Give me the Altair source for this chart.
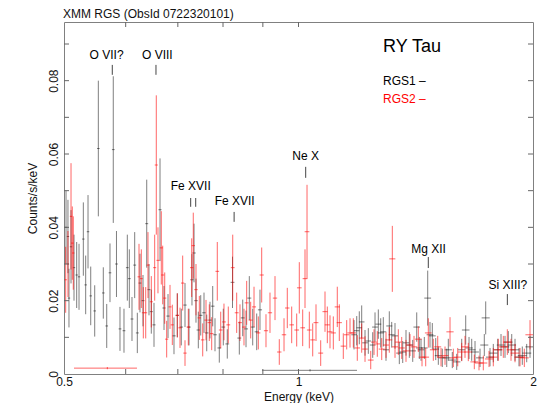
import altair as alt
import pandas as pd

FONT = "Liberation Sans"
W, H = 469, 352

# ---------------- RGS1 (black) ----------------
rgs1_e = [0.5030, 0.5059, 0.5074, 0.5105, 0.5150, 0.5191, 0.5227, 0.5294, 0.5331, 0.5368,
          0.5411, 0.5475, 0.5534, 0.5616, 0.5673, 0.5728, 0.5784, 0.5839, 0.5900, 0.5970,
          0.6029, 0.6065, 0.6113, 0.6162, 0.6210, 0.6259, 0.6315, 0.6385, 0.6428, 0.6472,
          0.6524, 0.6641, 0.6720, 0.6800, 0.6921, 0.6989, 0.7072, 0.7150, 0.7235, 0.7299,
          0.7343, 0.7386, 0.7437, 0.7490, 0.7563, 0.7624, 0.7698, 0.7760, 0.7813, 0.7913,
          0.8007, 0.8102, 0.8228, 0.8395, 0.8480, 0.8563, 0.8647, 0.8734, 0.8838, 0.8924,
          1.1783, 1.1878, 1.1969, 1.2054, 1.2173, 1.2292, 1.2453, 1.2538, 1.2661, 1.2751,
          1.2849, 1.2952, 1.3079, 1.3172, 1.3301, 1.3472, 1.3608, 1.3741, 1.3876, 1.4016,
          1.4183, 1.4292, 1.4364, 1.4505, 1.4651, 1.4751, 1.4852, 1.5002, 1.5118, 1.5297,
          1.5498, 1.5571, 1.5756, 1.5963, 1.6200, 1.6393, 1.6554, 1.6686, 1.6850, 1.7101,
          1.7319, 1.7391, 1.7614, 1.7786, 1.8019, 1.8196, 1.8412, 1.8593, 1.8781, 1.8965,
          1.9190, 1.9378, 1.9632, 1.9825]
rgs1_v = [0.040, 0.0375, 0.0207, 0.0347, 0.029, 0.027, 0.0265, 0.0368, 0.0243, 0.0388,
          0.0213, 0.0172, 0.0615, 0.0221, 0.0131, 0.0276, 0.0612, 0.030, 0.0123, 0.0118,
          0.029, 0.026, 0.015, 0.0297, 0.0112, 0.0248, 0.020, 0.041, 0.023, 0.017,
          0.0134, 0.0448, 0.018, 0.0158, 0.0104, 0.016, 0.0128, 0.0188, 0.0128, 0.0257,
          0.033, 0.020, 0.012, 0.016, 0.0167, 0.0112, 0.0147, 0.0185, 0.0107, 0.0071,
          0.0128, 0.0082, 0.025, 0.0098, 0.0153, 0.0123, 0.0207, 0.0128, 0.0115, 0.0175,
          0.0107, 0.0118, 0.0126, 0.0142, 0.0085, 0.009, 0.0079, 0.0128, 0.0136, 0.0112,
          0.0115, 0.0066, 0.0131, 0.0107, 0.0104, 0.0057, 0.006, 0.0085, 0.0079, 0.0063,
          0.0128, 0.0071, 0.0066, 0.0071, 0.0207, 0.0107, 0.0104, 0.0068, 0.005, 0.0044,
          0.0044, 0.0066, 0.0038, 0.0033, 0.0066, 0.012, 0.0071, 0.0066, 0.006, 0.0044,
          0.0079, 0.0153, 0.0046, 0.0057, 0.0066, 0.0079, 0.0074, 0.0087, 0.0079, 0.0066,
          0.0046, 0.005, 0.0057, 0.0074]
rgs1_err = [0.010, 0.010, 0.008, 0.010, 0.009, 0.009, 0.009, 0.010, 0.008, 0.010,
            0.008, 0.007, 0.0185, 0.007, 0.006, 0.008, 0.020, 0.009, 0.006, 0.006,
            0.009, 0.008, 0.006, 0.009, 0.0055, 0.008, 0.007, 0.012, 0.007, 0.006,
            0.006, 0.014, 0.006, 0.006, 0.005, 0.006, 0.005, 0.006, 0.005, 0.007,
            0.008, 0.006, 0.005, 0.0055, 0.0055, 0.005, 0.005, 0.0055, 0.0045, 0.004,
            0.005, 0.004, 0.007, 0.0045, 0.005, 0.005, 0.006, 0.005, 0.005, 0.0055,
            0.004, 0.004, 0.0045, 0.0045, 0.0035, 0.0035, 0.0035, 0.004, 0.004, 0.004,
            0.004, 0.003, 0.004, 0.0035, 0.0035, 0.003, 0.003, 0.0035, 0.0035, 0.003,
            0.004, 0.003, 0.003, 0.003, 0.0075, 0.0035, 0.0035, 0.003, 0.0025, 0.0025,
            0.0025, 0.003, 0.0022, 0.0022, 0.003, 0.004, 0.003, 0.003, 0.003, 0.0025,
            0.003, 0.0045, 0.0025, 0.0025, 0.003, 0.003, 0.003, 0.003, 0.003, 0.003,
            0.0025, 0.0025, 0.0025, 0.003]

# ---------------- RGS2 (red) ----------------
rgs2_e = [0.5025, 0.5059, 0.5105, 0.5124, 0.5139, 0.6241, 0.6284, 0.6321, 0.6366, 0.6409,
          0.6472, 0.6537, 0.6568, 0.6601, 0.6666, 0.6694, 0.6734, 0.6773, 0.6840, 0.6887,
          0.6989, 0.7045, 0.7101, 0.7150, 0.7220, 0.7293, 0.7327, 0.7386, 0.7459, 0.7534,
          0.7608, 0.7682, 0.7737, 0.7866, 0.7946, 0.8023, 0.8126, 0.8233, 0.8330, 0.8412,
          0.8512, 0.8580, 0.8682, 0.8768, 0.8880, 0.8969, 0.9084, 0.9192, 0.9329, 0.9448,
          0.9581, 0.9674, 0.9801, 0.9947, 1.0024, 1.0125, 1.0194, 1.0255, 1.0325, 1.0429,
          1.0531, 1.0678, 1.0815, 1.0889, 1.0976, 1.1084, 1.1215, 1.1282, 1.1416, 1.1531,
          1.1645, 1.1759, 1.1898, 1.2054, 1.2173, 1.2380, 1.2501, 1.2623, 1.2789, 1.2952,
          1.3079, 1.3196, 1.3301, 1.3432, 1.3567, 1.3741, 1.3904, 1.4070, 1.4250, 1.4407,
          1.4565, 1.4677, 1.4896, 1.5091, 1.5239, 1.5420, 1.5650, 1.5803, 1.6010, 1.6200,
          1.6359, 1.6519, 1.6815, 1.7050, 1.7268, 1.7562, 1.7786, 1.8051, 1.8320, 1.8538,
          1.8742, 1.8965, 1.9247, 1.9493, 1.9825]
rgs2_v = [0.0257, 0.030, 0.043, 0.0357, 0.033, 0.0265, 0.026, 0.0167, 0.0167, 0.0297,
          0.0197, 0.029, 0.057, 0.031, 0.0344, 0.027, 0.0207, 0.0095, 0.0183, 0.0134,
          0.016, 0.0126, 0.0248, 0.0057, 0.0128, 0.029, 0.035, 0.023, 0.0153, 0.0093,
          0.0147, 0.014, 0.011, 0.028, 0.012, 0.0142, 0.0134, 0.029, 0.0167, 0.014,
          0.0128, 0.0194, 0.0147, 0.0183, 0.0112, 0.027, 0.0118, 0.0167, 0.0207, 0.006,
          0.0107, 0.018, 0.0134, 0.012, 0.0235, 0.0126, 0.026, 0.0388, 0.012, 0.0093,
          0.014, 0.0057, 0.017, 0.0134, 0.0115, 0.0112, 0.0183, 0.014, 0.0076, 0.0107,
          0.0112, 0.0112, 0.0071, 0.0098, 0.0068, 0.0038, 0.0087, 0.0082, 0.0068, 0.0079,
          0.0093, 0.0314, 0.0074, 0.0087, 0.0071, 0.0063, 0.0079, 0.0074, 0.0095, 0.0046,
          0.0046, 0.0112, 0.0066, 0.0074, 0.0046, 0.005, 0.0115, 0.0044, 0.0046, 0.006,
          0.0074, 0.006, 0.0033, 0.003, 0.003, 0.0041, 0.0046, 0.0066, 0.0074, 0.0087,
          0.0066, 0.0057, 0.0046, 0.0044, 0.0107]
rgs2_err = [0.009, 0.009, 0.0145, 0.010, 0.010, 0.009, 0.008, 0.007, 0.007, 0.009,
            0.007, 0.009, 0.019, 0.009, 0.010, 0.008, 0.007, 0.005, 0.006, 0.0055,
            0.006, 0.0055, 0.0075, 0.0035, 0.005, 0.008, 0.009, 0.007, 0.006, 0.0045,
            0.0055, 0.005, 0.0045, 0.008, 0.005, 0.005, 0.005, 0.009, 0.0055, 0.005,
            0.005, 0.006, 0.005, 0.0055, 0.0045, 0.0075, 0.0045, 0.0055, 0.006, 0.0035,
            0.0045, 0.0055, 0.005, 0.0045, 0.007, 0.005, 0.008, 0.0128, 0.005, 0.0045,
            0.005, 0.0035, 0.0055, 0.005, 0.0045, 0.0045, 0.0055, 0.005, 0.0035, 0.004,
            0.004, 0.004, 0.0035, 0.004, 0.0035, 0.0025, 0.0035, 0.0035, 0.003, 0.0035,
            0.0035, 0.009, 0.003, 0.0035, 0.003, 0.003, 0.003, 0.003, 0.0035, 0.0025,
            0.0025, 0.004, 0.003, 0.003, 0.0025, 0.0025, 0.004, 0.0025, 0.0025, 0.0025,
            0.003, 0.0025, 0.002, 0.002, 0.002, 0.0022, 0.0025, 0.003, 0.003, 0.0035,
            0.003, 0.0025, 0.0025, 0.0025, 0.004]

# wide (chip-gap) bins: instrument, centre, low edge, high edge, value, error
wide_inst = ["RGS1", "RGS2"]
wide_e = [1.0347, 0.5683]
wide_lo = [0.8977, 0.5150]
wide_hi = [1.1888, 0.6204]
wide_v = [0.0010, 0.0016]
wide_err = [0.0003, 0.0003]

# line identifications
line_label = ["O VII?", "O VIII", "Fe XVII", "Fe XVII", "Ne X", "Mg XII", "Si XIII?"]
line_label_e = [0.5670, 0.6588, 0.7273, 0.8280, 1.0215, 1.4686, 1.8573]
line_label_y = [0.0871, 0.0871, 0.0513, 0.0473, 0.0595, 0.0341, 0.0243]
mark_e = [0.5767, 0.6562, 0.7271, 0.7380, 0.8267, 1.0215, 1.4677, 1.8540]
mark_y1 = [0.0843, 0.0843, 0.0480, 0.0480, 0.0442, 0.0565, 0.0319, 0.0218]
mark_y2 = [0.0816, 0.0816, 0.0456, 0.0456, 0.0415, 0.0535, 0.0289, 0.0188]

x_minor = [0.6, 0.7, 0.8, 0.9, 1.0]
y_minor = [0.01, 0.02, 0.03, 0.04, 0.05, 0.06, 0.07, 0.08, 0.09]

HALF_BIN_A = 0.085   # half bin width in Angstrom (constant-wavelength bins)
HC = 12.398

assert len(rgs1_e) == len(rgs1_v) == len(rgs1_err)
assert len(rgs2_e) == len(rgs2_v) == len(rgs2_err)


def build(es, vs, errs):
    rows = []
    for e, v, s in zip(es, vs, errs):
        de = e * e * HALF_BIN_A / HC
        rows.append(dict(e=e, elo=e - de, ehi=e + de, v=v, lo=max(v - s, 0.0), hi=v + s))
    return rows


df1 = pd.DataFrame(build(rgs1_e, rgs1_v, rgs1_err))
df2 = pd.DataFrame(build(rgs2_e, rgs2_v, rgs2_err))
wide = pd.DataFrame(dict(inst=wide_inst, e=wide_e, elo=wide_lo, ehi=wide_hi, v=wide_v,
                         lo=[a - b for a, b in zip(wide_v, wide_err)],
                         hi=[a + b for a, b in zip(wide_v, wide_err)]))
df1 = pd.concat([df1, wide[wide.inst == "RGS1"].drop(columns="inst")], ignore_index=True)
df2 = pd.concat([df2, wide[wide.inst == "RGS2"].drop(columns="inst")], ignore_index=True)

xs = alt.Scale(type="log", domain=[0.5, 2.0], nice=False)
ys = alt.Scale(domain=[0, 0.096], nice=False, zero=False)

xaxis = alt.Axis(values=[0.5, 1, 2], format="~g", labelAngle=0, ticks=False, tickSize=0,
                 domain=False, grid=False, labelFlush=False, labelFont=FONT, labelFontSize=12,
                 labelColor="#111", labelPadding=2, titleFont=FONT, titleFontSize=12,
                 titleFontWeight="normal", titleColor="#111", titlePadding=4)
yaxis = alt.Axis(values=[0, 0.02, 0.04, 0.06, 0.08], format="~g", labelAngle=270,
                 labelAlign="center", labelBaseline="bottom", ticks=False, tickSize=0,
                 domain=False, grid=False, labelFont=FONT, labelFontSize=12,
                 labelColor="#111", labelPadding=4, titleFont=FONT, titleFontSize=12,
                 titleFontWeight="normal", titleColor="#111", titlePadding=8)


def X(f):
    return alt.X(f, type="quantitative", scale=xs, axis=xaxis, title="Energy (keV)")


def Y(f):
    return alt.Y(f, type="quantitative", scale=ys, axis=yaxis, title="Counts/s/keV")


def errbars(df, color, op):
    base = alt.Chart(df)
    vert = base.mark_rule(color=color, strokeWidth=1, opacity=op, clip=True).encode(
        x=X("e"), y=Y("lo"), y2="hi")
    hor = base.mark_rule(color=color, strokeWidth=1, opacity=op, clip=True).encode(
        x=X("elo"), x2="ehi", y=Y("v"))
    return [vert, hor]


ytick_df = pd.DataFrame(dict(t=y_minor))
xtick_df = pd.DataFrame(dict(t=x_minor))
TC = "#666"
ticks = [
    alt.Chart(ytick_df).mark_rule(color=TC).encode(y=Y("t"), x=alt.value(0), x2=alt.value(5)),
    alt.Chart(ytick_df).mark_rule(color=TC).encode(y=Y("t"), x=alt.value(W), x2=alt.value(W - 5)),
    alt.Chart(xtick_df).mark_rule(color=TC).encode(x=X("t"), y=alt.value(H), y2=alt.value(H - 5)),
    alt.Chart(xtick_df).mark_rule(color=TC).encode(x=X("t"), y=alt.value(0), y2=alt.value(5)),
]

lab_df = pd.DataFrame(dict(e=line_label_e, y=line_label_y, label=line_label))
mark_df = pd.DataFrame(dict(e=mark_e, y1=mark_y1, y2=mark_y2))
labels = alt.Chart(lab_df).mark_text(font=FONT, fontSize=12, color="#000",
                                     align="center", baseline="middle").encode(
    x=X("e"), y=Y("y"), text="label")
marks = alt.Chart(mark_df).mark_rule(color="#444", strokeWidth=1).encode(
    x=X("e"), y=Y("y1"), y2="y2")

txt = pd.DataFrame(dict(t=["XMM RGS (ObsId 0722320101)"]))
title = alt.Chart(txt).mark_text(font=FONT, fontSize=12, color="#111", align="left",
                                 baseline="alphabetic").encode(
    x=alt.value(-1), y=alt.value(-4), text="t")
obj = alt.Chart(pd.DataFrame(dict(t=["RY Tau"]))).mark_text(
    font=FONT, fontSize=18, color="#000", align="left", baseline="alphabetic").encode(
    x=alt.value(319), y=alt.value(30), text="t")
leg1 = alt.Chart(pd.DataFrame(dict(t=["RGS1 \u2013"]))).mark_text(
    font=FONT, fontSize=12, color="#000", align="left", baseline="alphabetic").encode(
    x=alt.value(319), y=alt.value(63), text="t")
leg2 = alt.Chart(pd.DataFrame(dict(t=["RGS2 \u2013"]))).mark_text(
    font=FONT, fontSize=12, color="#ff0000", align="left", baseline="alphabetic").encode(
    x=alt.value(319), y=alt.value(81), text="t")

layers = (errbars(df1, "#000000", 0.5) + errbars(df2, "#ff0000", 0.6)
          + ticks + [marks, labels, title, obj, leg1, leg2])

chart = alt.layer(*layers).properties(
    width=W, height=H,
    padding={"left": 56, "top": 14, "right": 4, "bottom": 34},
    autosize=alt.AutoSizeParams(type="none"),
).configure_view(stroke="#808080", strokeWidth=1)

chart.save("out.html", embed_options={"renderer": "svg", "actions": False})
